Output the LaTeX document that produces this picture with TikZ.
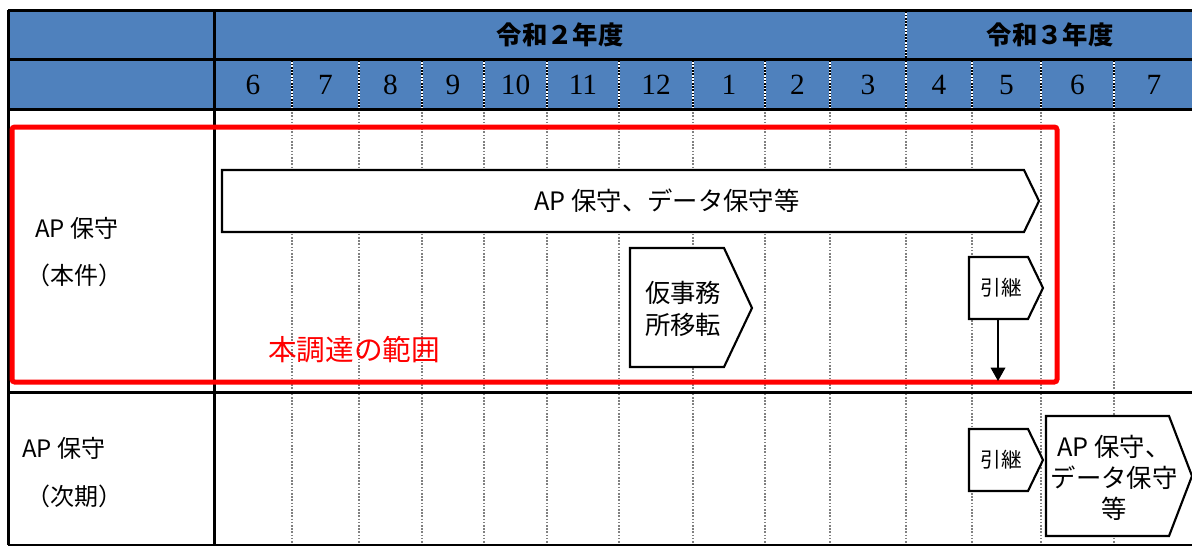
\documentclass[tikz,border=0pt]{standalone}
\usepackage{fontspec}
\setmainfont{Liberation Serif}
\newfontfamily\jp{Noto Sans CJK JP}
\usetikzlibrary{arrows.meta}

\definecolor{hdrblue}{HTML}{4F81BD}
\definecolor{rangered}{HTML}{FF0000}

\tikzset{
  hdr/.style={font=\jp\bfseries\fontsize{19}{22}\selectfont},
  month/.style={font=\fontsize{22}{24}\selectfont},
  lbl/.style={anchor=west, inner sep=0pt, font=\jp\fontsize{18}{22}\selectfont},
  task/.style={inner sep=0pt, align=center, font=\jp\fontsize{19}{24}\selectfont},
  rule/.style={line width=2.25pt},
  griddot/.style={gray, line width=0.8pt, dash pattern=on 1.2pt off 1.2pt},
  hdrdot/.style={white, line width=0.9pt, dash pattern=on 1.2pt off 1.2pt},
  taskbox/.style={draw, fill=white, line width=1.6pt, line join=miter},
}

\begin{document}
\begin{tikzpicture}[x=0.75pt, y=-0.75pt]
\useasboundingbox (0,0) rectangle (1192,546);

% header
\fill[hdrblue] (8,10) rectangle (1194,109);

% month columns
\foreach \xb in {292,359,422,484,547,619,693,765,830,906,972,1041,1114} {
  \draw[griddot] (\xb,109) -- (\xb,545);
  \draw[black, line width=0.9pt] (\xb,59) -- (\xb,109);
  \draw[hdrdot] (\xb,59) -- (\xb,109);
}
\draw[black, line width=0.9pt] (906,10) -- (906,59);
\draw[hdrdot] (906,10) -- (906,59);

% table rules
\draw[rule] (8,10) -- (1194,10);
\draw[rule] (8,59) -- (1194,59);
\draw[rule] (8,109) -- (1194,109);
\draw[rule] (8,392) -- (1194,392);
\draw[rule] (8,545) -- (1194,545);
\draw[rule] (8,10) -- (8,545);
\draw[rule] (214,10) -- (214,545);

% header text
\node[hdr] (fy2) at (560,35) {令和２年度};
\node[hdr] (fy3) at (1050,35) {令和３年度};
\foreach \xa/\xb/\m [count=\i] in {214/292/6, 292/359/7, 359/422/8, 422/484/9,
    484/547/10, 547/619/11, 619/693/12, 693/765/1, 765/830/2, 830/906/3,
    906/972/4, 972/1041/5, 1041/1114/6, 1114/1194/7}
  \node[month] (mon\i) at ({(\xa+\xb)/2},85) {\m};

% row labels
\node[lbl] (cur) at (35,228) {AP 保守};
\node[lbl] (curb) at (26,275) {（本件）};
\node[lbl] (nxt) at (22,448) {AP 保守};
\node[lbl] (nxtb) at (26,496) {（次期）};

% tasks, this contract
\draw[taskbox] (222,170) -- (1024,170) -- (1039,201) -- (1024,232) -- (222,232) -- cycle;
\node[task] (apmain) at (667,201) {AP 保守、データ保守等};

\draw[taskbox] (630,248) -- (724,248) -- (752,308) -- (724,367) -- (630,367) -- cycle;
\node[task] (move) at (683,309) {仮事務\\所移転};

\draw[taskbox] (969,257) -- (1028,257) -- (1043,288) -- (1028,319) -- (969,319) -- cycle;
\node[task, font=\jp\fontsize{15.5}{18}\selectfont] (hand1) at (1001,288) {引継};
\coordinate (hand1b) at (998,319);
\coordinate (handend) at (998,381);

% tasks, next contract
\draw[taskbox] (969,429) -- (1028,429) -- (1043,460) -- (1028,491) -- (969,491) -- cycle;
\node[task, font=\jp\fontsize{15.5}{18}\selectfont] (hand2) at (1001,460) {引継};

\draw[taskbox] (1046,416) -- (1169,416) -- (1192,476) -- (1169,536) -- (1046,536) -- cycle;
\node[task, font=\jp\fontsize{19}{23.2}\selectfont] (apnext) at (1114,478) {AP 保守、\\データ保守\\等};

% scope of this procurement
\draw[rangered, line width=3.75pt, rounded corners=2pt] (12,127) rectangle (1057,382);
\node[task, rangered, font=\jp\fontsize{21.5}{24}\selectfont] (scope) at (354,350) {本調達の範囲};

\draw[line width=1pt, -{Triangle[length=10pt, width=11pt]}] (hand1b) -- (handend);
\end{tikzpicture}
\end{document}
